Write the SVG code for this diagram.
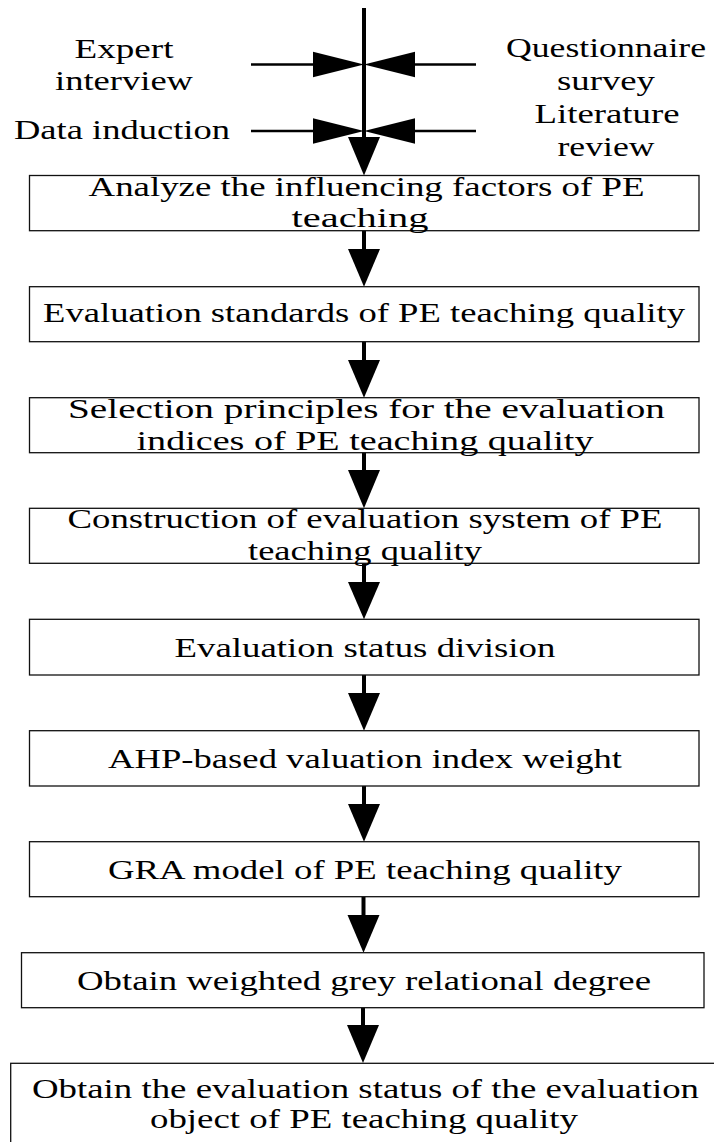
<svg xmlns="http://www.w3.org/2000/svg" width="714" height="1142" viewBox="0 0 714 1142">
<style>
.box{fill:#fff;stroke:#111;stroke-width:1.3}
text{font-family:'Liberation Serif','Times New Roman',Times,serif;font-size:27px;fill:#000;text-anchor:middle}
.v{stroke:#000;stroke-width:4;fill:none}
.h{stroke:#000;stroke-width:2.7;fill:none}
.ah{fill:#000;stroke:none}
</style>
<rect width="714" height="1142" fill="#fff"/>
<g id="connectors">
<line class="v" x1="364" y1="8" x2="364" y2="140"/>
<line class="h" x1="251" y1="64.5" x2="316" y2="64.5"/>
<path class="ah" d="M313,51.7 L364,64.5 L313,77.3 Z"/>
<line class="h" x1="476" y1="64.5" x2="412" y2="64.5"/>
<path class="ah" d="M415,51.7 L364,64.5 L415,77.3 Z"/>
<line class="h" x1="251" y1="131" x2="316" y2="131"/>
<path class="ah" d="M313,118.2 L364,131 L313,143.8 Z"/>
<line class="h" x1="476" y1="131" x2="412" y2="131"/>
<path class="ah" d="M415,118.2 L364,131 L415,143.8 Z"/>
<path class="ah" d="M348,137 L380,137 L364,175.5 Z"/>
<line class="v" x1="364" y1="231" x2="364" y2="252"/>
<path class="ah" d="M348,249 L380,249 L364,286.7 Z"/>
<line class="v" x1="364" y1="342" x2="364" y2="363"/>
<path class="ah" d="M348,360 L380,360 L364,397.7 Z"/>
<line class="v" x1="364" y1="453" x2="364" y2="473"/>
<path class="ah" d="M348,470 L380,470 L364,508.3 Z"/>
<line class="v" x1="364" y1="563" x2="364" y2="585"/>
<path class="ah" d="M348,582 L380,582 L364,619.3 Z"/>
<line class="v" x1="364" y1="675" x2="364" y2="696"/>
<path class="ah" d="M348,693 L380,693 L364,730.7 Z"/>
<line class="v" x1="364" y1="786" x2="364" y2="807"/>
<path class="ah" d="M348,804 L380,804 L364,841.7 Z"/>
<line class="v" x1="363.5" y1="897" x2="363.5" y2="918"/>
<path class="ah" d="M347.5,915 L379.5,915 L363.5,952.7 Z"/>
<line class="v" x1="363" y1="1008" x2="363" y2="1028"/>
<path class="ah" d="M347,1025 L379,1025 L363,1063 Z"/>
</g>
<g id="label-expert"><text x="124" y="58" textLength="99" lengthAdjust="spacingAndGlyphs">Expert</text><text x="124" y="90" textLength="138" lengthAdjust="spacingAndGlyphs">interview</text></g>
<g id="label-data"><text x="122" y="139" textLength="216" lengthAdjust="spacingAndGlyphs">Data induction</text></g>
<g id="label-questionnaire"><text x="606" y="57" textLength="200" lengthAdjust="spacingAndGlyphs">Questionnaire</text><text x="606" y="90" textLength="98" lengthAdjust="spacingAndGlyphs">survey</text></g>
<g id="label-literature"><text x="607" y="123" textLength="145" lengthAdjust="spacingAndGlyphs">Literature</text><text x="606" y="156" textLength="97" lengthAdjust="spacingAndGlyphs">review</text></g>
<g id="n1"><rect class="box" x="29.5" y="175.5" width="669.5" height="55.2"/><text x="366.5" y="196" textLength="556" lengthAdjust="spacingAndGlyphs">Analyze the influencing factors of PE</text><text x="360" y="227" textLength="137" lengthAdjust="spacingAndGlyphs">teaching</text></g>
<g id="n2"><rect class="box" x="29.5" y="286.7" width="669.5" height="55"/><text x="364" y="322" textLength="642" lengthAdjust="spacingAndGlyphs">Evaluation standards of PE teaching quality</text></g>
<g id="n3"><rect class="box" x="29.5" y="397.7" width="669.5" height="55"/><text x="366.5" y="418" textLength="597" lengthAdjust="spacingAndGlyphs">Selection principles for the evaluation</text><text x="365" y="450" textLength="457" lengthAdjust="spacingAndGlyphs">indices of PE teaching quality</text></g>
<g id="n4"><rect class="box" x="29.5" y="508.3" width="669.5" height="55"/><text x="365" y="528" textLength="595" lengthAdjust="spacingAndGlyphs">Construction of evaluation system of PE</text><text x="365" y="560" textLength="234" lengthAdjust="spacingAndGlyphs">teaching quality</text></g>
<g id="n5"><rect class="box" x="29.5" y="619.3" width="669.5" height="55.7"/><text x="365" y="657" textLength="381" lengthAdjust="spacingAndGlyphs">Evaluation status division</text></g>
<g id="n6"><rect class="box" x="29.5" y="730.7" width="669.5" height="55.3"/><text x="365" y="767.5" textLength="514" lengthAdjust="spacingAndGlyphs">AHP-based valuation index weight</text></g>
<g id="n7"><rect class="box" x="29.5" y="841.7" width="669.5" height="55"/><text x="365" y="879" textLength="514" lengthAdjust="spacingAndGlyphs">GRA model of PE teaching quality</text></g>
<g id="n8"><rect class="box" x="21.5" y="952.7" width="682.5" height="55"/><text x="364" y="990" textLength="574" lengthAdjust="spacingAndGlyphs">Obtain weighted grey relational degree</text></g>
<g id="n9"><rect class="box" x="10.7" y="1063.3" width="720" height="100"/><text x="365.5" y="1098" textLength="667" lengthAdjust="spacingAndGlyphs">Obtain the evaluation status of the evaluation</text><text x="364" y="1127.5" textLength="428" lengthAdjust="spacingAndGlyphs">object of PE teaching quality</text></g>
</svg>
